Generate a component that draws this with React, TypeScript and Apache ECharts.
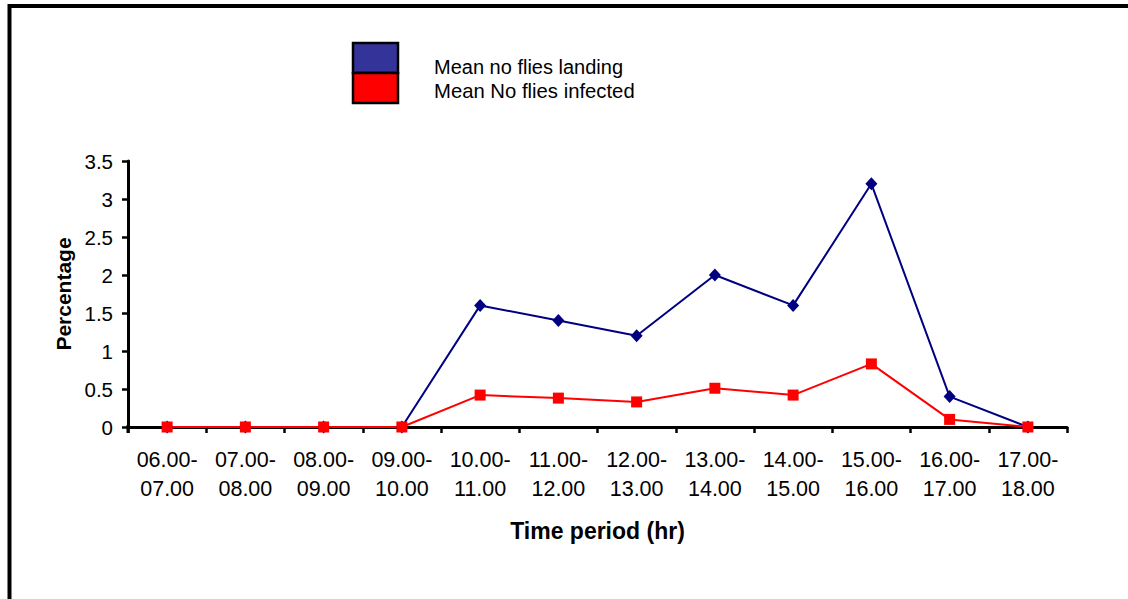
import React, { useEffect, useRef } from "react";
import * as echarts from "echarts";

const categories = [
  "06.00-\n07.00",
  "07.00-\n08.00",
  "08.00-\n09.00",
  "09.00-\n10.00",
  "10.00-\n11.00",
  "11.00-\n12.00",
  "12.00-\n13.00",
  "13.00-\n14.00",
  "14.00-\n15.00",
  "15.00-\n16.00",
  "16.00-\n17.00",
  "17.00-\n18.00",
];
const landing = [0, 0, 0, 0, 1.6, 1.4, 1.2, 2.0, 1.6, 3.2, 0.4, 0];
const infected = [0, 0, 0, 0, 0.42, 0.38, 0.33, 0.51, 0.42, 0.83, 0.1, 0];
const seriesNames = ["Mean no flies landing", "Mean No flies infected"];
const yMin = 0;
const yMax = 3.5;
const yInterval = 0.5;

const FONT = "'Liberation Sans', Arial, sans-serif";

export default function App() {
  const ref = useRef<HTMLDivElement>(null);
  useEffect(() => {
    document.body.style.margin = "0";
    if (!ref.current) return;
    const chart = echarts.init(ref.current, null, { renderer: "svg" });
    chart.setOption({
      animation: false,
      backgroundColor: "#ffffff",
      grid: { left: 128, right: 61, top: 161, bottom: 172, containLabel: false },
      graphic: [
        {
          type: "rect",
          shape: { x: 9.5, y: 6, width: 1300, height: 800 },
          style: { fill: "none", stroke: "#000", lineWidth: 4 },
          silent: true,
        },
        {
          type: "rect",
          shape: { x: 353, y: 43, width: 45, height: 30 },
          style: { fill: "#333399", stroke: "#000", lineWidth: 2.5 },
        },
        {
          type: "rect",
          shape: { x: 353, y: 73, width: 45, height: 30 },
          style: { fill: "#ff0000", stroke: "#000", lineWidth: 2.5 },
        },
        {
          type: "text",
          x: 434,
          y: 67,
          style: {
            text: seriesNames[0],
            fontSize: 20,
            fontFamily: FONT,
            fill: "#000",
            verticalAlign: "middle",
            align: "left",
          },
        },
        {
          type: "text",
          x: 434,
          y: 91,
          style: {
            text: seriesNames[1],
            fontSize: 20.3,
            fontFamily: FONT,
            fill: "#000",
            verticalAlign: "middle",
            align: "left",
          },
        },
        {
          type: "line",
          shape: { x1: 128, y1: 425, x2: 128, y2: 433 },
          style: { stroke: "#000", lineWidth: 3 },
        },
      ],
      xAxis: {
        type: "category",
        data: categories,
        boundaryGap: true,
        name: "Time period (hr)",
        nameLocation: "middle",
        nameGap: 92,
        nameTextStyle: { fontSize: 23, fontWeight: "bold", fontFamily: FONT, color: "#000" },
        axisLine: { show: true, lineStyle: { color: "#000", width: 3 } },
        axisTick: { show: true, length: 6, alignWithLabel: false, lineStyle: { color: "#000", width: 2.5 } },
        axisLabel: {
          interval: 0,
          fontSize: 21.5,
          lineHeight: 29,
          margin: 18,
          color: "#000",
          fontFamily: FONT,
        },
        splitLine: { show: false },
      },
      yAxis: {
        type: "value",
        min: yMin,
        max: yMax,
        interval: yInterval,
        name: "Percentage",
        nameLocation: "middle",
        nameGap: 54,
        nameTextStyle: { fontSize: 21, fontWeight: "bold", fontFamily: FONT, color: "#000" },
        axisLine: { show: true, lineStyle: { color: "#000", width: 3 } },
        axisTick: { show: true, length: 6, lineStyle: { color: "#000", width: 2.5 } },
        axisLabel: { fontSize: 20.5, margin: 15, color: "#000", fontFamily: FONT },
        splitLine: { show: false },
      },
      series: [
        {
          name: seriesNames[0],
          type: "line",
          data: landing,
          symbol: "diamond",
          symbolSize: [12, 13],
          lineStyle: { color: "#000080", width: 2 },
          itemStyle: { color: "#000080" },
        },
        {
          name: seriesNames[1],
          type: "line",
          data: infected,
          symbol: "rect",
          symbolSize: 11,
          lineStyle: { color: "#ff0000", width: 2 },
          itemStyle: { color: "#ff0000" },
        },
      ],
    });
    return () => chart.dispose();
  }, []);
  return <div ref={ref} style={{ width: 1128, height: 599 }} />;
}
